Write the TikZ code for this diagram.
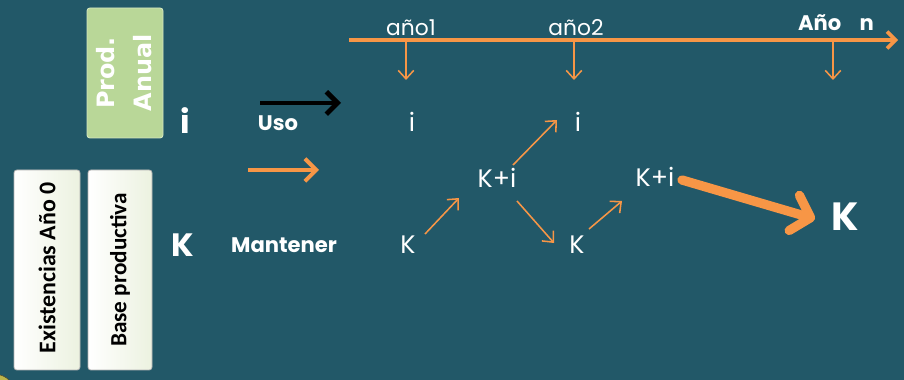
\documentclass[tikz,border=0pt]{standalone}
\usepackage{fontspec}
\setmainfont{Poppins}
\newfontfamily\cajafont{Carlito}
\newfontfamily\prodfont{DejaVu Sans}
\usetikzlibrary{arrows.meta,calc}

\definecolor{fondo}{RGB}{34,88,104}
\definecolor{naranja}{RGB}{247,150,70}
\definecolor{verde}{RGB}{185,215,152}
\definecolor{verdeclaro}{RGB}{236,242,224}

\begin{document}
\begin{tikzpicture}[x=0.025cm, y=-0.025cm,
    txt/.style={text=white, inner sep=0pt, font=\fontsize{18}{18}\selectfont},
    negrita/.style={text=white, inner sep=0pt, font=\bfseries\fontsize{15}{15}\selectfont},
    caja/.style={rounded corners=2pt, draw=black!30, line width=0.6pt},
    flecha/.style={naranja, line width=1.1pt, -{Straight Barb[length=6pt,width=11pt]}}]
   % fondo
   \fill[fondo] (0,0) rectangle (904,380);
   \useasboundingbox (0,0) rectangle (904,380);
   \fill[olive!60, draw=olive!40!black] (-6,396) circle (22);

   % cajas de la izquierda
   \draw[caja, draw=verde!60!white, fill=verde] (87,8) rectangle (163,138);
   \node[rotate=90, text=white, align=center, font=\prodfont\bfseries\fontsize{17}{26}\selectfont]
      (prod) at (124,73) {Prod.\\Anual};
   \draw[caja, left color=white, right color=verdeclaro] (14,170) rectangle (80,370);
   \node[rotate=90, font=\cajafont\bfseries\fontsize{17}{17}\selectfont]
      (exist) at (47,268) {Existencias Año 0};
   \draw[caja, left color=white, right color=verdeclaro] (88,170) rectangle (152,370);
   \node[rotate=90, font=\cajafont\bfseries\fontsize{16.5}{16.5}\selectfont]
      (base) at (120,270) {Base productiva};

   \node[negrita, font=\bfseries\fontsize{23}{23}\selectfont] (ii) at (185,121) {i};
   \node[negrita, font=\bfseries\fontsize{23}{23}\selectfont] (kk) at (183,245) {K};
   \node[negrita] (uso) at (278,123) {Uso};
   \node[negrita] (mant) at (284,245) {Mantener};

   % flechas de uso y mantener
   \coordinate (usoa) at (260,103);
   \coordinate (usob) at (341,103);
   \draw[black, line width=3.5pt, -{Straight Barb[length=8pt,width=16pt]}] (usoa) -- (usob);
   \coordinate (manta) at (248,170);
   \coordinate (mantb) at (319,170);
   \draw[naranja, line width=2.8pt, -{Straight Barb[length=8pt,width=16pt]}] (manta) -- (mantb);

   % linea del tiempo
   \coordinate (t0) at (349,40);
   \coordinate (tf) at (898,40);
   \draw[naranja, line width=2.6pt, -{Straight Barb[length=6pt,width=12pt]}] (t0) -- (tf);
   \node[txt, anchor=base, font=\fontsize{15.5}{15.5}\selectfont] (a1) at (411,36) {año1};
   \node[txt, anchor=base, font=\fontsize{15.5}{15.5}\selectfont] (a2) at (576,36) {año2};
   \node[negrita, anchor=base] (an) at (836,31) {Año\hspace{13pt}n};
   \foreach \x/\nom in {406/1, 574/2, 833/n} {
      \coordinate (d\nom) at (\x,80);
      \draw[flecha] (\x,42) -- (d\nom);
   }

   % valores por año
   \node[txt] (i1) at (412,122) {i};
   \node[txt] (i2) at (578,122) {i};
   \node[txt] (k1) at (408,245) {K};
   \node[txt] (ki1) at (497,178) {K+i};
   \node[txt] (k2) at (577,245) {K};
   \node[txt] (ki2) at (655,177) {K+i};
   \node[negrita, font=\bfseries\fontsize{28}{28}\selectfont] (kn) at (845,217) {K};

   \draw[flecha] ($(k1)+(17,-11)$) -- ($(ki1)+(-38,20)$);
   \draw[flecha] ($(ki1)+(16,-13)$) -- ($(i2)+(-21,-2)$);
   \draw[flecha] ($(ki1)+(20,23)$) -- ($(k2)+(-23,-2)$);
   \draw[flecha] ($(k2)+(12,-16)$) -- ($(ki2)+(-33,24)$);
   \draw[naranja, line width=6.6pt, line cap=round,
      -{Straight Barb[length=12pt,width=26pt,round]}] ($(ki2)+(27,3)$) -- ($(kn)+(-30,2)$);
\end{tikzpicture}
\end{document}
